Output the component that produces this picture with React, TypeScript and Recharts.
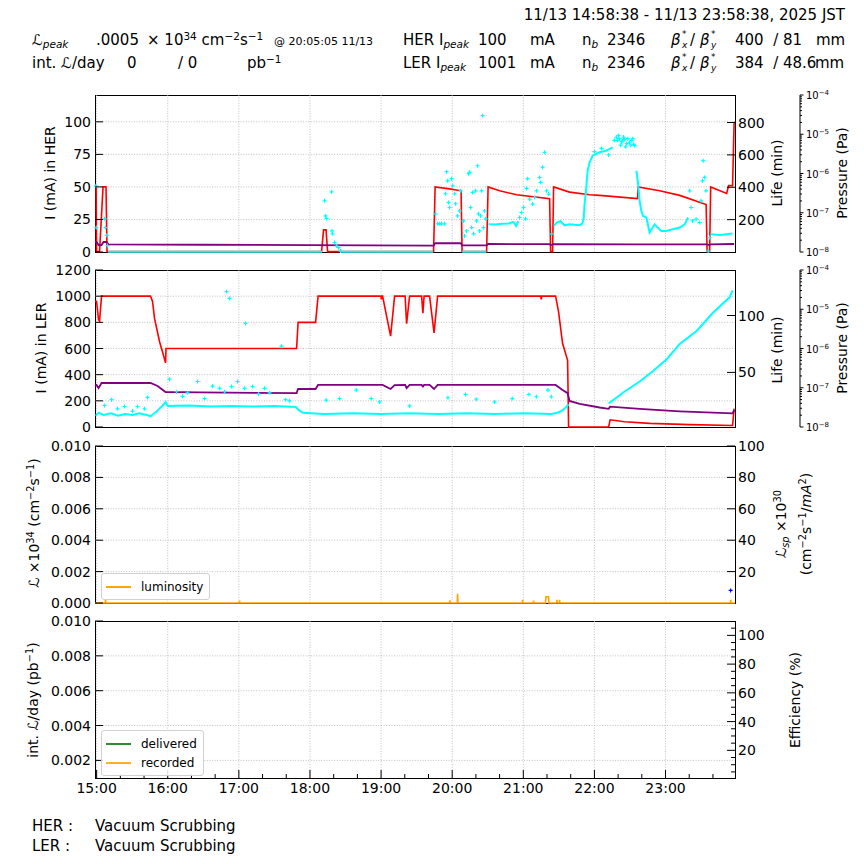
import React from 'react';
import { ComposedChart, Line, Scatter, XAxis, YAxis, CartesianGrid } from 'recharts';

type Pt = [number, number | null];

const FONT = "'DejaVu Sans', Verdana, sans-serif";

// time in decimal hours, 14:58:38 -> 23:58:38 JST
const timeDomain: [number, number] = [14.977, 23.977];
const hourTicks = [15, 16, 17, 18, 19, 20, 21, 22, 23];
const xTicks = hourTicks.flatMap((h) => [h, h + 1 / 3, h + 2 / 3]);

// pressure axis (Pa, log)
const pDecades = [1e-8, 1e-7, 1e-6, 1e-5, 1e-4];
const pMinor = [2, 3, 4, 5, 6, 7, 8, 9];
const pTicks = [...pDecades, ...pDecades.slice(0, 4).flatMap((d) => pMinor.map((k) => k * d))];

const herTicks = [0, 25, 50, 75, 100];
const herLifeTicks = [200, 400, 600, 800];
const lerTicks = [0, 200, 400, 600, 800, 1000, 1200];
const lerLifeTicks = [50, 100];
const lumTicks = [0, 0.002, 0.004, 0.006, 0.008, 0.01];
const lspTicks = [20, 40, 60, 80, 100];
const intTicks = [0.002, 0.004, 0.006, 0.008, 0.01];
const effTicks = [5, 10, 15, 20, 25, 30, 35, 40, 45, 50, 55, 60, 65, 70, 75, 80, 85, 90, 95, 100, 105];

// ---- HER (mA, min, Pa)
const herCurrent: Pt[] = [
  [14.977, 50], [14.993, 50], [14.999, 0.3], [15.041, 0.3], [15.09, 50], [15.132, 50], [15.146, 0.3],
  [18.163, 0.3], [18.191, 17], [18.226, 17], [18.248, 0.3], [19.738, 0.3], [19.76, 50], [19.963, 48.5],
  [20.125, 47], [20.139, 0.3], [20.484, 0.3], [20.505, 50], [20.667, 47], [20.906, 44], [21.37, 41],
  [21.384, 0.3], [21.412, 0.3], [21.426, 50], [21.651, 46], [21.933, 44], [22.074, 43.5], [22.608, 41],
  [22.615, 50], [22.917, 47], [23.2, 43.5], [23.571, 36.5], [23.585, 0.3], [23.62, 0.3], [23.635, 50],
  [23.86, 45], [23.887, 51], [23.943, 51], [23.965, 100],
];
const herPressure: Pt[] = [
  [14.977, 1.8e-8], [14.999, 1.8e-8], [15.027, 1.5e-8], [15.069, 1.5e-8], [15.097, 1.8e-8], [15.139, 1.8e-8],
  [15.167, 1.57e-8], [16.5, 1.53e-8], [18.0, 1.5e-8], [19.738, 1.46e-8], [19.76, 1.67e-8], [20.125, 1.67e-8],
  [20.139, 1.47e-8], [20.484, 1.47e-8], [20.505, 1.6e-8], [21.37, 1.58e-8], [21.384, 1.5e-8], [21.426, 1.58e-8],
  [22.6, 1.57e-8], [23.585, 1.56e-8], [23.62, 1.5e-8], [23.635, 1.57e-8], [23.965, 1.6e-8],
];
const herLifeTrace: Pt[] = [
  [15.16, 2], [18.17, 2], [18.18, null], [18.44, 2], [19.73, 2], [19.74, null], [20.14, 2], [20.48, 2], [20.49, null],
  [20.51, 172], [20.6, 170], [20.7, 174], [20.8, 176], [20.86, 186], [20.9, 161], [20.93, 190], [20.94, null],
  [21.43, 161], [21.47, 182], [21.52, 190], [21.58, 165], [21.65, 172], [21.72, 168], [21.79, 165], [21.83, 175],
  [21.85, 213], [21.862, 298], [21.886, 399], [21.904, 502], [21.933, 554], [21.975, 595], [22.074, 616],
  [22.168, 626], [22.257, 647], [22.26, null],
  [22.59, 502], [22.615, 420], [22.636, 316], [22.66, 254], [22.683, 223], [22.73, 213], [22.777, 120],
  [22.847, 171], [22.889, 151], [22.94, 130], [23.01, 130], [23.1, 140], [23.2, 151], [23.27, 171], [23.316, 213],
  [23.32, null], [23.635, 110], [23.761, 105], [23.86, 110], [23.943, 114],
];
const herLifeDots: Pt[] = [
  [14.99, 409], [14.995, 151], [15.111, 205], [15.125, 151], [15.143, 103], [15.153, 40],
  [18.205, 316], [18.219, 223], [18.233, 207], [18.304, 372], [18.31, 130], [18.318, 112], [18.346, 58],
  [18.374, 37], [18.402, 27], [18.43, 6],
  [19.767, 236], [19.795, 174], [19.823, 174], [19.851, 174], [19.893, 174], [19.907, 360], [19.921, 496],
  [19.935, 440], [19.949, 306], [19.963, 275], [19.992, 453], [20.006, 409], [20.034, 360], [20.048, 298],
  [20.076, 223], [20.104, 254], [20.118, 378],
  [20.16, 192], [20.174, 99], [20.202, 130], [20.231, 484], [20.245, 492], [20.259, 275], [20.273, 151],
  [20.287, 368], [20.301, 112], [20.329, 378], [20.343, 192], [20.357, 533], [20.371, 236], [20.385, 130],
  [20.399, 223], [20.413, 378], [20.427, 843], [20.44, 151], [20.456, 254], [20.47, 205],
  [20.948, 213], [20.976, 244], [21.004, 275], [21.032, 205], [21.046, 393], [21.06, 453], [21.089, 327],
  [21.131, 296], [21.159, 337], [21.187, 378], [21.229, 461], [21.243, 430], [21.271, 523], [21.299, 616],
  [21.328, 378], [21.356, 358], [21.398, 112],
  [22.0, 620], [22.1, 640], [22.2, 600],
  [22.28, 690], [22.308, 709], [22.326, 690], [22.34, 720], [22.355, 700], [22.37, 660], [22.383, 680],
  [22.397, 688], [22.41, 710], [22.425, 695], [22.44, 650], [22.453, 670], [22.47, 700], [22.495, 678],
  [22.51, 660], [22.524, 690], [22.54, 700], [22.552, 665], [22.566, 657],
  [23.34, 378], [23.36, 275], [23.38, 192], [23.43, 203], [23.48, 182], [23.5, 316], [23.52, 440],
  [23.53, 564], [23.55, 461], [23.57, 378], [23.6, 6], [23.62, 89],
];

// ---- LER (mA, min, Pa)
const lerCurrent: Pt[] = [
  [14.977, 960], [14.999, 960], [15.027, 820], [15.041, 810], [15.069, 1000], [15.758, 1000], [15.786, 960],
  [15.814, 830], [15.885, 652], [15.931, 565], [15.969, 490], [15.976, 600], [17.812, 600], [17.833, 800],
  [18.079, 800], [18.114, 1000], [19.0, 1000], [19.003, 975], [19.008, 1000], [19.021, 1000], [19.134, 695],
  [19.19, 1000], [19.338, 1000], [19.359, 790], [19.401, 1000], [19.57, 1000], [19.588, 870], [19.605, 1000],
  [19.682, 1000], [19.745, 720], [19.795, 1000], [21.245, 1000], [21.253, 975], [21.26, 1000], [21.454, 1000],
  [21.496, 880], [21.552, 640], [21.623, 510], [21.637, 0], [22.2, 0], [22.221, 55], [22.425, 40],
  [22.777, 28], [23.34, 18], [23.943, 12], [23.965, 140],
];
const lerPressure: Pt[] = [
  [14.977, 1.11e-7], [14.999, 1.18e-7], [15.027, 9.8e-8], [15.069, 1.32e-7], [15.758, 1.32e-7], [15.857, 1.11e-7],
  [15.969, 7.8e-8], [16.447, 7.6e-8], [17.812, 7.3e-8], [17.833, 9.3e-8], [18.079, 9.3e-8], [18.114, 1.18e-7],
  [19.021, 1.18e-7], [19.134, 9.3e-8], [19.19, 1.16e-7], [19.338, 1.18e-7], [19.359, 9.8e-8], [19.401, 1.18e-7],
  [19.57, 1.18e-7], [19.588, 1.07e-7], [19.605, 1.18e-7], [19.682, 1.18e-7], [19.745, 9.3e-8], [19.795, 1.18e-7],
  [21.454, 1.18e-7], [21.552, 8.8e-8], [21.623, 7.3e-8], [21.651, 4.6e-8], [21.792, 3.86e-8], [22.074, 3.14e-8],
  [22.2, 2.9e-8], [22.221, 3.29e-8], [22.636, 2.88e-8], [23.2, 2.51e-8], [23.943, 2.23e-8], [23.965, 2.71e-8],
];
const lerLifeTrace: Pt[] = [
  [14.985, 12], [15.03, 14.5], [15.1, 12.5], [15.2, 14], [15.3, 12], [15.4, 13.5], [15.5, 12.5], [15.6, 14],
  [15.7, 12.5], [15.758, 11.5], [15.85, 16], [15.93, 21], [15.969, 24], [16.0, 20.5], [16.3, 21], [16.6, 20],
  [16.9, 20.5], [17.2, 20], [17.5, 20.5], [17.8, 19.5], [17.84, 17], [17.9, 14.5], [18.2, 13.5], [18.6, 14],
  [19.0, 13.5], [19.4, 14], [19.8, 13.5], [20.2, 14], [20.6, 13.5], [21.0, 14], [21.4, 13.5], [21.5, 15],
  [21.56, 17], [21.6, 19.5], [21.637, 22], [21.64, null],
  [22.2, 22.6], [22.42, 33], [22.636, 42], [22.82, 51], [23.016, 61.6], [23.2, 75], [23.44, 86.6],
  [23.66, 102], [23.9, 116], [23.943, 122],
];
const lerLifeDots: Pt[] = [
  [15.111, 21], [15.21, 26], [15.294, 18], [15.392, 20], [15.505, 16], [15.575, 20], [15.674, 18], [15.716, 28],
  [16.025, 44], [16.124, 33], [16.208, 29], [16.278, 32], [16.419, 42], [16.517, 27], [16.63, 38], [16.728, 36],
  [16.799, 33], [16.827, 121], [16.869, 115], [16.897, 37.5], [16.982, 42], [17.08, 36], [17.094, 93],
  [17.193, 37.5], [17.277, 31], [17.362, 36], [17.432, 32], [17.6, 73], [17.657, 26], [17.713, 25],
  [18.229, 25.6], [18.416, 27], [18.651, 34.5], [18.862, 27], [18.979, 24], [19.401, 20.5], [19.94, 27.7],
  [20.188, 30.6], [20.339, 26.5], [20.596, 24], [20.845, 27], [21.079, 30.6], [21.183, 28.6], [21.346, 34.5],
  [21.394, 28.6],
];

// ---- luminosity panels
const lumiTrace: Pt[] = [
  [14.977, 0], [15.12, 0], [15.125, 0.0002], [15.13, 0], [17.005, 0], [17.01, 0.00015], [17.015, 0],
  [19.962, 0], [19.967, 0.00017], [19.972, 0], [20.071, 0], [20.076, 0.00058], [20.081, 0], [20.985, 0],
  [20.99, 0.0002], [20.995, 0], [21.14, 0], [21.145, 0.00015], [21.15, 0], [21.313, 0], [21.318, 0.0004],
  [21.355, 0.0004], [21.36, 0], [21.467, 0], [21.472, 0.0002], [21.477, 0], [21.505, 0], [21.51, 0.0002],
  [21.515, 0], [23.911, 0], [23.916, 0.0002], [23.921, 0], [23.977, 0],
];
const lspDots: Pt[] = [[23.916, 8]];
const delivered: Pt[] = [[14.977, 0], [23.977, 0]];
const recorded: Pt[] = [[14.977, 0], [23.977, 0]];

const pts = (a: Pt[]) => a.map(([t, v]) => ({ t, v }));

const txt = { fontFamily: FONT, fill: '#000' };

const xTick = (labels: boolean) => (p: any) => {
  const v = p.payload.value;
  const major = Math.abs(v - Math.round(v)) < 1e-6;
  return (
    <g>
      <line x1={p.x} x2={p.x} y1={p.y} y2={p.y - (major ? 8 : 4)} stroke="#000" />
      {labels && major ? (
        <text x={p.x} y={p.y + 15} textAnchor="middle" fontSize={14} {...txt}>{`${Math.round(v)}:00`}</text>
      ) : null}
    </g>
  );
};

const leftTick = (fmt: (v: number) => string) => (p: any) => (
  <g>
    <line x1={p.x} x2={p.x + 8} y1={p.y} y2={p.y} stroke="#000" />
    <text x={p.x - 4} y={p.y} dy={5} textAnchor="end" fontSize={14} {...txt}>{fmt(p.payload.value)}</text>
  </g>
);

const rightTick = (fmt: (v: number) => string, isMajor: (v: number) => boolean = () => true) => (p: any) => {
  const major = isMajor(p.payload.value);
  return (
    <g>
      <line x1={p.x - (major ? 8 : 4)} x2={p.x} y1={p.y} y2={p.y} stroke="#000" />
      {major ? (
        <text x={p.x + 3} y={p.y} dy={5} textAnchor="start" fontSize={14} {...txt}>{fmt(p.payload.value)}</text>
      ) : null}
    </g>
  );
};

const pTick = (p: any) => {
  const e = Math.log10(p.payload.value);
  const major = Math.abs(e - Math.round(e)) < 1e-6;
  return (
    <g>
      <line x1={p.x} x2={p.x + (major ? 3.5 : 2)} y1={p.y} y2={p.y} stroke="#000" />
      {major ? (
        <text x={p.x + 6} y={p.y} dy={4} fontSize={10} {...txt}>
          10<tspan dy={-4} fontSize={7}>{`−${-Math.round(e)}`}</tspan>
        </text>
      ) : null}
    </g>
  );
};

const fmtInt = (v: number) => String(v);
const fmt3 = (v: number) => v.toFixed(3);

const plusShape = (color: string) => (p: any) => (
  <path d={`M${p.cx - 2},${p.cy}h4M${p.cx},${p.cy - 2}v4`} stroke={color} strokeWidth={1.2} fill="none" />
);

const PLOT_H = 157;
const MT = 10;

const Sup = ({ children }: { children: React.ReactNode }) => (
  <span style={{ fontSize: '0.7em', verticalAlign: '0.5em', lineHeight: 0 }}>{children}</span>
);
const Sub = ({ children, italic }: { children: React.ReactNode; italic?: boolean }) => (
  <span style={{ fontSize: '0.7em', verticalAlign: '-0.3em', lineHeight: 0, fontStyle: italic ? 'italic' : 'normal' }}>
    {children}
  </span>
);

const T = ({ x, y, size = 15, children }: { x: number; y: number; size?: number; children: React.ReactNode }) => (
  <div
    style={{
      position: 'absolute',
      left: x,
      top: y - 0.48 * size,
      fontSize: size,
      lineHeight: `${size}px`,
      whiteSpace: 'nowrap',
    }}
  >
    {children}
  </div>
);

// beta*_x / beta*_y, drawn as small separate pieces so nothing stacks on top of another
const BetaXY = ({ y }: { y: number }) => (
  <>
    <T x={671} y={y}><i>β</i></T>
    <T x={682} y={y - 6} size={9}>*</T>
    <T x={682} y={y + 5} size={9}><i>x</i></T>
    <T x={690} y={y}>/</T>
    <T x={700} y={y}><i>β</i></T>
    <T x={711} y={y - 6} size={9}>*</T>
    <T x={711} y={y + 5} size={9}><i>y</i></T>
  </>
);

const VT = ({ x, y, size = 14, children }: { x: number; y: number; size?: number; children: React.ReactNode }) => (
  <div
    style={{
      position: 'absolute',
      left: x,
      top: y,
      transform: 'translate(-50%, -50%) rotate(-90deg)',
      fontSize: size,
      lineHeight: 1,
      whiteSpace: 'nowrap',
    }}
  >
    {children}
  </div>
);

const Frame = ({ top }: { top: number }) => (
  <div
    style={{
      position: 'absolute',
      left: 95,
      top,
      width: 641,
      height: PLOT_H + 1,
      border: '1px solid #000',
      boxSizing: 'border-box',
    }}
  />
);

const gridProps = { stroke: '#b0b0b0', strokeDasharray: '1 1.6', strokeWidth: 0.8 };

const xAxisFor = (labels: boolean) => (
  <XAxis
    xAxisId="x"
    dataKey="t"
    type="number"
    domain={timeDomain}
    ticks={xTicks}
    interval={0}
    height={labels ? 30 : 0}
    tickSize={0}
    tickMargin={0}
    axisLine={false}
    tickLine={false}
    tick={xTick(labels)}
  />
);

const P1 = 95;
const P2 = 270;
const P3 = 446;
const P4 = 621;

const Legend = ({ left, top, items }: { left: number; top: number; items: { name: string; color: string }[] }) => (
  <div
    style={{
      position: 'absolute',
      left,
      top,
      padding: '3px 6px 3px 4px',
      border: '1px solid #d0d0d0',
      borderRadius: 3,
      background: 'rgba(255,255,255,0.85)',
      fontSize: 12,
    }}
  >
    {items.map((it) => (
      <div key={it.name} style={{ display: 'flex', alignItems: 'center', height: 19 }}>
        <div style={{ width: 25, height: 0, borderTop: `2px solid ${it.color}`, marginRight: 10 }} />
        <span>{it.name}</span>
      </div>
    ))}
  </div>
);

export default function App() {
  return (
    <div
      style={{
        position: 'absolute',
        left: 0,
        top: 0,
        width: 864,
        height: 864,
        background: '#fff',
        fontFamily: FONT,
        color: '#000',
        overflow: 'hidden',
      }}
    >
      {/* header */}
      <div style={{ position: 'absolute', right: 19, top: 15 - 7.2, fontSize: 15, lineHeight: '15px', whiteSpace: 'nowrap' }}>
        11/13 14:58:38 - 11/13 23:58:38, 2025 JST
      </div>
      <T x={32} y={40}>ℒ<Sub italic>peak</Sub></T>
      <T x={96} y={40}>.0005</T>
      <T x={147} y={40}>× 10<Sup>34</Sup> cm<Sup>−2</Sup>s<Sup>−1</Sup></T>
      <T x={274} y={41} size={11}>@ 20:05:05 11/13</T>
      <T x={403} y={40}>HER I<Sub italic>peak</Sub></T>
      <T x={478} y={40}>100</T>
      <T x={530} y={40}>mA</T>
      <T x={582} y={40}>n<Sub italic>b</Sub></T>
      <T x={607} y={40}>2346</T>
      <BetaXY y={40} />
      <T x={735} y={40}>400&nbsp; / 81</T>
      <T x={816} y={40}>mm</T>

      <T x={32} y={63}>int. ℒ/day</T>
      <T x={127} y={63}>0</T>
      <T x={178} y={63}>/ 0</T>
      <T x={247} y={63}>pb<Sup>−1</Sup></T>
      <T x={403} y={63}>LER I<Sub italic>peak</Sub></T>
      <T x={478} y={63}>1001</T>
      <T x={530} y={63}>mA</T>
      <T x={582} y={63}>n<Sub italic>b</Sub></T>
      <T x={607} y={63}>2346</T>
      <BetaXY y={63} />
      <T x={735} y={63}>384&nbsp; / 48.6</T>
      <T x={815} y={63}>mm</T>

      {/* panel 1: HER */}
      <Frame top={P1} />
      <div style={{ position: 'absolute', left: 0, top: P1 - MT }}>
        <ComposedChart width={864} height={PLOT_H + 2 * MT} margin={{ top: MT, right: 0, bottom: MT, left: 0 }}>
          <CartesianGrid xAxisId="x" yAxisId="left" {...gridProps} verticalValues={hourTicks} horizontalValues={[25, 50, 75, 100]} />
          {xAxisFor(false)}
          <YAxis yAxisId="left" type="number" width={95} domain={[0, 120.6]} ticks={herTicks} interval={0} tickSize={0} tickMargin={0} axisLine={false} tickLine={false} tick={leftTick(fmtInt)} />
          <YAxis yAxisId="life" type="number" orientation="right" width={65} domain={[0, 970]} ticks={herLifeTicks} interval={0} tickSize={0} tickMargin={0} axisLine={false} tickLine={false} tick={rightTick(fmtInt)} />
          <YAxis yAxisId="p" type="number" orientation="right" width={64} scale="log" domain={[1e-8, 1e-4]} ticks={pTicks} interval={0} tickSize={0} tickMargin={0} axisLine={{ stroke: '#000' }} tickLine={false} tick={pTick} />
          <Line data={pts(herCurrent)} dataKey="v" xAxisId="x" yAxisId="left" stroke="#ff0000" strokeWidth={1.6} dot={false} isAnimationActive={false} />
          <Line data={pts(herPressure)} dataKey="v" xAxisId="x" yAxisId="p" stroke="#800080" strokeWidth={1.8} dot={false} isAnimationActive={false} />
          <Line data={pts(herLifeTrace)} dataKey="v" xAxisId="x" yAxisId="life" stroke="#00ffff" strokeWidth={2} dot={false} isAnimationActive={false} />
          <Scatter data={pts(herLifeDots)} dataKey="v" xAxisId="x" yAxisId="life" shape={plusShape('#00ffff')} isAnimationActive={false} />
        </ComposedChart>
      </div>

      {/* panel 2: LER */}
      <Frame top={P2} />
      <div style={{ position: 'absolute', left: 0, top: P2 - MT }}>
        <ComposedChart width={864} height={PLOT_H + 2 * MT} margin={{ top: MT, right: 0, bottom: MT, left: 0 }}>
          <CartesianGrid xAxisId="x" yAxisId="left" {...gridProps} verticalValues={hourTicks} horizontalValues={[200, 400, 600, 800, 1000]} />
          {xAxisFor(false)}
          <YAxis yAxisId="left" type="number" width={95} domain={[0, 1200]} ticks={lerTicks} interval={0} tickSize={0} tickMargin={0} axisLine={false} tickLine={false} tick={leftTick(fmtInt)} />
          <YAxis yAxisId="life" type="number" orientation="right" width={65} domain={[2, 140]} ticks={lerLifeTicks} interval={0} tickSize={0} tickMargin={0} axisLine={false} tickLine={false} tick={rightTick(fmtInt)} />
          <YAxis yAxisId="p" type="number" orientation="right" width={64} scale="log" domain={[1e-8, 1e-4]} ticks={pTicks} interval={0} tickSize={0} tickMargin={0} axisLine={{ stroke: '#000' }} tickLine={false} tick={pTick} />
          <Line data={pts(lerCurrent)} dataKey="v" xAxisId="x" yAxisId="left" stroke="#ff0000" strokeWidth={1.6} dot={false} isAnimationActive={false} />
          <Line data={pts(lerPressure)} dataKey="v" xAxisId="x" yAxisId="p" stroke="#800080" strokeWidth={1.8} dot={false} isAnimationActive={false} />
          <Line data={pts(lerLifeTrace)} dataKey="v" xAxisId="x" yAxisId="life" stroke="#00ffff" strokeWidth={2} dot={false} isAnimationActive={false} />
          <Scatter data={pts(lerLifeDots)} dataKey="v" xAxisId="x" yAxisId="life" shape={plusShape('#00ffff')} isAnimationActive={false} />
        </ComposedChart>
      </div>

      {/* panel 3: luminosity */}
      <Frame top={P3} />
      <div style={{ position: 'absolute', left: 0, top: P3 - MT }}>
        <ComposedChart width={864} height={PLOT_H + 2 * MT} margin={{ top: MT, right: 0, bottom: MT, left: 0 }}>
          <CartesianGrid xAxisId="x" yAxisId="left" {...gridProps} verticalValues={hourTicks} horizontalValues={[0.002, 0.004, 0.006, 0.008]} />
          {xAxisFor(false)}
          <YAxis yAxisId="left" type="number" width={95} domain={[0, 0.01]} ticks={lumTicks} interval={0} tickSize={0} tickMargin={0} axisLine={false} tickLine={false} tick={leftTick(fmt3)} />
          <YAxis yAxisId="right" type="number" orientation="right" width={129} domain={[0, 100]} ticks={lspTicks} interval={0} tickSize={0} tickMargin={0} axisLine={false} tickLine={false} tick={rightTick(fmtInt)} />
          <Line data={pts(lumiTrace)} dataKey="v" xAxisId="x" yAxisId="left" stroke="#ffa500" strokeWidth={1.6} dot={false} isAnimationActive={false} />
          <Scatter data={pts(lspDots)} dataKey="v" xAxisId="x" yAxisId="right" shape={plusShape('#0000ff')} isAnimationActive={false} />
        </ComposedChart>
      </div>
      <Legend left={101} top={573} items={[{ name: 'luminosity', color: '#ffa500' }]} />

      {/* panel 4: integrated luminosity */}
      <Frame top={P4} />
      <div style={{ position: 'absolute', left: 0, top: P4 - MT }}>
        <ComposedChart width={864} height={PLOT_H + MT + 30} margin={{ top: MT, right: 0, bottom: 0, left: 0 }}>
          <CartesianGrid xAxisId="x" yAxisId="left" {...gridProps} verticalValues={hourTicks} horizontalValues={[0.002, 0.004, 0.006, 0.008]} />
          {xAxisFor(true)}
          <YAxis yAxisId="left" type="number" width={95} domain={[0.00099, 0.01]} allowDataOverflow ticks={intTicks} interval={0} tickSize={0} tickMargin={0} axisLine={false} tickLine={false} tick={leftTick(fmt3)} />
          <YAxis yAxisId="right" type="number" orientation="right" width={129} domain={[0.75, 110]} allowDataOverflow ticks={effTicks} interval={0} tickSize={0} tickMargin={0} axisLine={false} tickLine={false} tick={rightTick(fmtInt, (v) => v % 20 === 0)} />
          <Line data={pts(delivered)} dataKey="v" xAxisId="x" yAxisId="left" stroke="#228b22" strokeWidth={1.6} dot={false} isAnimationActive={false} />
          <Line data={pts(recorded)} dataKey="v" xAxisId="x" yAxisId="left" stroke="#ffa500" strokeWidth={1.6} dot={false} isAnimationActive={false} />
        </ComposedChart>
      </div>
      <Legend
        left={101}
        top={730}
        items={[
          { name: 'delivered', color: '#2e8b2e' },
          { name: 'recorded', color: '#ffb020' },
        ]}
      />

      {/* axis titles */}
      <VT x={50} y={173}>I (mA) in HER</VT>
      <VT x={777} y={173}>Life (min)</VT>
      <VT x={842} y={173}>Pressure (Pa)</VT>
      <VT x={41} y={348}>I (mA) in LER</VT>
      <VT x={777} y={350}>Life (min)</VT>
      <VT x={842} y={348}>Pressure (Pa)</VT>
      <VT x={34} y={523}>ℒ ×10<Sup>34</Sup> (cm<Sup>−2</Sup>s<Sup>−1</Sup>)</VT>
      <VT x={781} y={524}>ℒ<Sub italic>sp</Sub> ×10<Sup>30</Sup></VT>
      <VT x={806} y={524}>(cm<Sup>−2</Sup>s<Sup>−1</Sup>/<i>mA</i><Sup>2</Sup>)</VT>
      <VT x={33} y={700}>int. ℒ/day (pb<Sup>−1</Sup>)</VT>
      <VT x={795} y={700}>Efficiency (%)</VT>

      {/* footer */}
      <T x={32} y={826}>HER :</T>
      <T x={95} y={826}>Vacuum Scrubbing</T>
      <T x={32} y={846}>LER :</T>
      <T x={95} y={846}>Vacuum Scrubbing</T>
    </div>
  );
}
